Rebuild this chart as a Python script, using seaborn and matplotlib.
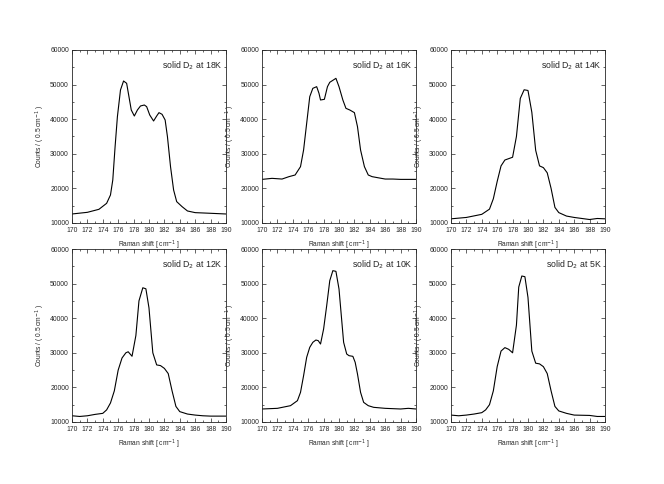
import numpy as np
import pandas as pd
import matplotlib
matplotlib.use("Agg")
import matplotlib.pyplot as plt
from matplotlib.ticker import MultipleLocator
import seaborn as sns

sns.set_style("ticks")
plt.rcParams['font.family'] = ['Liberation Sans', 'DejaVu Sans']

titles = ["18K", "16K", "14K", "12K", "10K", "5K"]

x18 = [170, 172, 173.5, 174.5, 175, 175.3, 175.6, 175.9, 176.3, 176.7, 177.1, 177.4, 177.7, 178.1, 178.5,
       178.9, 179.4, 179.7, 180.1, 180.6, 181, 181.3, 181.7, 182.1, 182.4, 182.8, 183.2, 183.6, 184.3,
       185, 186, 188, 190]
y18 = [12600, 13080, 13950, 15680, 18090, 22430, 32060, 40730, 48440, 51040, 50370, 46510, 42660, 40920, 42660,
       43820, 44100, 43620, 41210, 39480, 40920, 41890, 41410, 39770, 34950, 26280, 19540, 16170, 14720,
       13470, 12990, 12800, 12600]

x16 = [170, 171.3, 172.6, 173.5, 174.3, 175, 175.4, 175.9, 176.2, 176.6, 177.1, 177.4, 177.6, 178.1, 178.5,
       178.8, 179.4, 179.6, 180, 180.5, 180.9, 181.4, 182, 182.4, 182.8, 183.3, 183.8, 184.3, 185, 186,
       187, 188, 190]
y16 = [22600, 22900, 22700, 23390, 23870, 26280, 31100, 40730, 46510, 48920, 49400, 47480, 45550, 45740, 49400,
       50660, 51520, 51810, 49400, 45550, 43140, 42660, 41890, 37840, 31100, 26280, 23870, 23390, 23100, 22700,
       22700, 22600, 22600]

x14 = [170, 172, 174, 175, 175.5, 176, 176.5, 177, 178, 178.5, 179, 179.5, 180, 180.5, 181, 181.5, 182,
       182.5, 183, 183.5, 184, 185, 186, 187, 188, 189, 190]
y14 = [11200, 11600, 12500, 14000, 17000, 22000, 26500, 28200, 29000, 35000, 46000, 48500, 48300, 42000, 31000, 26500, 26000,
       24500, 20000, 14500, 13000, 12000, 11600, 11300, 11000, 11300, 11200]

x12 = [170, 171, 172, 173, 174, 174.5, 175, 175.5, 176, 176.5, 177, 177.3, 177.8, 178.3, 178.7, 179.2, 179.6,
       180, 180.5, 181, 181.5, 182, 182.5, 183, 183.5, 184, 185, 186, 187, 188, 190]
y12 = [11800, 11600, 11800, 12200, 12500, 13500, 15500, 19000, 25000, 28500, 30000, 30300, 29000, 35000, 45000, 48800, 48500,
       43000, 30000, 26500, 26300, 25500, 24000, 19000, 14500, 13000, 12300, 12000, 11800, 11700, 11700]

x10 = [170, 172, 173.7, 174.6, 175, 175.4, 175.8, 176.2, 176.6, 177, 177.3, 177.6, 178, 178.4, 178.8, 179.2,
       179.6, 180, 180.3, 180.6, 181, 181.3, 181.8, 182.1, 182.4, 182.8, 183.2, 183.8, 184.5, 186, 188,
       189, 190]
y10 = [13760, 13950, 14720, 16170, 18570, 23390, 28690, 31580, 33030, 33700, 33510, 32540, 36880, 43620, 50850, 53740,
       53550, 48440, 40730, 33030, 29650, 29170, 28980, 27250, 23870, 18570, 15680, 14720, 14240, 13950, 13760,
       13950, 13760]

x5 = [170, 171, 172, 173, 174, 174.5, 175, 175.5, 176, 176.5, 177, 177.5, 178, 178.5, 178.8, 179.2, 179.6,
      180, 180.5, 181, 181.5, 182, 182.5, 183, 183.5, 184, 185, 186, 188, 189, 190]
y5 = [12000, 11800, 12000, 12300, 12700, 13500, 15000, 19000, 26000, 30500, 31500, 31000, 30000, 38000, 49000, 52200, 52000,
      46000, 30500, 27000, 26800, 26000, 24000, 19000, 14500, 13200, 12500, 12000, 11900, 11600, 11600]

xs = [x18, x16, x14, x12, x10, x5]
ys = [y18, y16, y14, y12, y10, y5]

fig = plt.figure(figsize=(6.64, 4.84), dpi=100)
lefts = [0.1084, 0.3946, 0.6792]
bottoms = [0.5393, 0.1281]
w, h = 0.2319, 0.3574

for i in range(6):
    r, c = divmod(i, 3)
    ax = fig.add_axes([lefts[c], bottoms[r], w, h])
    df = pd.DataFrame({"x": xs[i], "y": ys[i]})
    sns.lineplot(data=df, x="x", y="y", ax=ax, color="black", lw=0.8, estimator=None)
    ax.set_xlim(170, 190)
    ax.set_ylim(10000, 60000)
    ax.xaxis.set_major_locator(MultipleLocator(2))
    ax.xaxis.set_minor_locator(MultipleLocator(1))
    ax.yaxis.set_major_locator(MultipleLocator(10000))
    ax.yaxis.set_minor_locator(MultipleLocator(5000))
    ax.tick_params(which="both", direction="in", top=True, right=True, labelsize=4.9, width=0.5)
    ax.tick_params(axis="y", pad=2.2)
    ax.tick_params(axis="x", pad=3)
    ax.tick_params(which="major", length=3)
    ax.tick_params(which="minor", length=1.5)
    for s in ax.spines.values():
        s.set_linewidth(0.6)
    ax.set_xlabel("Raman shift [ cm$^{-1}$ ]", fontsize=4.8, labelpad=3)
    ax.set_ylabel("Counts / ( 0.5 cm$^{-1}$ )", fontsize=4.8)
    ax.yaxis.set_label_coords(-0.16, 0.5)
    ax.text(0.98, 0.91, "solid D$_2$ at " + titles[i], transform=ax.transAxes,
            ha="right", va="center", fontsize=6.3)

fig.savefig("out.png", dpi=100)
